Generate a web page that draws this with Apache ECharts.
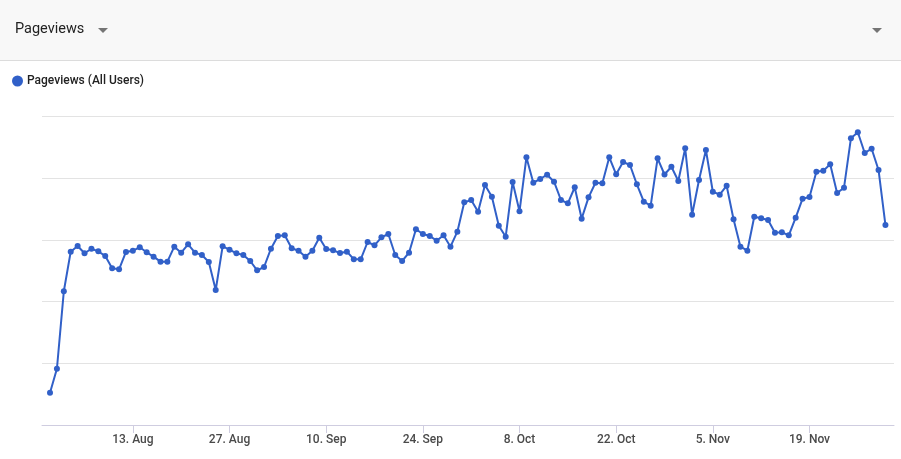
<!DOCTYPE html>
<html>
<head>
<meta charset="utf-8">
<script src="https://cdn.jsdelivr.net/npm/echarts@6/dist/echarts.min.js"></script>
<style>
html,body{margin:0;padding:0;background:#fff;}
#chart{width:901px;height:459px;}
</style>
</head>
<body>
<div id="chart"></div>
<script>
// Pageviews (All Users), daily from 1 Aug to 30 Nov
const startDate = '2018-08-01';
const dayCount = 122;
const seriesName = 'Pageviews (All Users)';
const pageviews = [
  523, 912, 2167, 2809, 2901, 2783, 2857, 2815, 2739, 2540,
  2523, 2804, 2825, 2880, 2799, 2728, 2647, 2647, 2890, 2793,
  2929, 2793, 2755, 2642, 2188, 2896, 2841, 2783, 2755, 2658,
  2507, 2561, 2857, 3063, 3075, 2864, 2825, 2728, 2825, 3036,
  2853, 2831, 2788, 2809, 2686, 2686, 2966, 2912, 3042, 3096,
  2755, 2658, 2793, 3172, 3096, 3063, 2987, 3075, 2890, 3133,
  3609, 3647, 3457, 3890, 3700, 3230, 3052, 3938, 3464, 4339,
  3927, 3987, 4057, 3943, 3647, 3593, 3853, 3344, 3690, 3927,
  3917, 4339, 4063, 4263, 4214, 3901, 3619, 3554, 4323, 4060,
  4186, 3955, 4485, 3408, 3971, 4457, 3781, 3733, 3878, 3334,
  2890, 2825, 3376, 3350, 3323, 3117, 3123, 3075, 3360, 3668,
  3695, 4105, 4122, 4225, 3760, 3846, 4647, 4744, 4408, 4478,
  4133, 3241
];
const tickLabels = ['13. Aug', '27. Aug', '10. Sep', '24. Sep', '8. Oct', '22. Oct', '5. Nov', '19. Nov'];

const monthNames = ['Jan','Feb','Mar','Apr','May','Jun','Jul','Aug','Sep','Oct','Nov','Dec'];
const dates = [];
{
  const d0 = new Date(startDate + 'T00:00:00Z');
  for (let i = 0; i < dayCount; i++) {
    const d = new Date(d0.getTime() + i * 86400000);
    dates.push(d.getUTCDate() + '. ' + monthNames[d.getUTCMonth()]);
  }
}
const tickIdx = tickLabels.map(l => dates.indexOf(l));

const chart = echarts.init(document.getElementById('chart'), null, {renderer: 'canvas'});
const blue = '#3160c8';
chart.setOption({
  animation: false,
  textStyle: {fontFamily: 'Roboto, "Noto Sans", sans-serif'},
  graphic: [
    {type: 'rect', left: 0, top: 0, shape: {width: 901, height: 60}, style: {fill: '#f8f8f8'}, z: -1},
    {type: 'rect', left: 0, top: 60, shape: {width: 901, height: 1}, style: {fill: '#dcdcdc'}, z: -1},
    {type: 'text', left: 15, top: 22, style: {text: 'Pageviews', fontSize: 14.5, fill: '#222', fontFamily: 'Roboto, sans-serif'}},
    {type: 'polygon', shape: {points: [[98, 28], [108, 28], [103, 33]]}, style: {fill: '#757575'}},
    {type: 'polygon', shape: {points: [[872, 28], [882, 28], [877, 33]]}, style: {fill: '#757575'}}
  ],
  legend: {
    left: 12, top: 75, padding: 0,
    icon: 'circle', itemWidth: 11, itemHeight: 11, itemGap: 10,
    textStyle: {fontSize: 12, color: '#222', fontWeight: 500, fontFamily: 'Roboto, sans-serif', padding: [0, 0, 0, -1]},
    data: [seriesName]
  },
  grid: {left: 42, right: 7, top: 116.5, bottom: 34, containLabel: false},
  xAxis: {
    type: 'value',
    min: -1.16, max: 122.24,
    splitLine: {show: false},
    axisLine: {lineStyle: {color: '#cfcde0', width: 1}},
    axisTick: {show: true, length: 8, customValues: tickIdx, lineStyle: {color: '#cfcde0'}},
    axisLabel: {
      customValues: tickIdx, fontSize: 12, color: '#4a4a4a', fontWeight: 500, margin: 9,
      formatter: v => dates[Math.round(v)] || ''
    }
  },
  yAxis: {
    type: 'value', min: 0, max: 5000, interval: 1000,
    axisLabel: {show: false}, axisTick: {show: false}, axisLine: {show: false},
    splitLine: {lineStyle: {color: '#e3e3e3', width: 1}}
  },
  series: [{
    name: seriesName,
    type: 'line',
    data: pageviews.map((v, i) => [i, v]),
    symbol: 'circle', symbolSize: 6,
    itemStyle: {color: blue},
    lineStyle: {color: blue, width: 2}
  }]
});
</script>
</body>
</html>
